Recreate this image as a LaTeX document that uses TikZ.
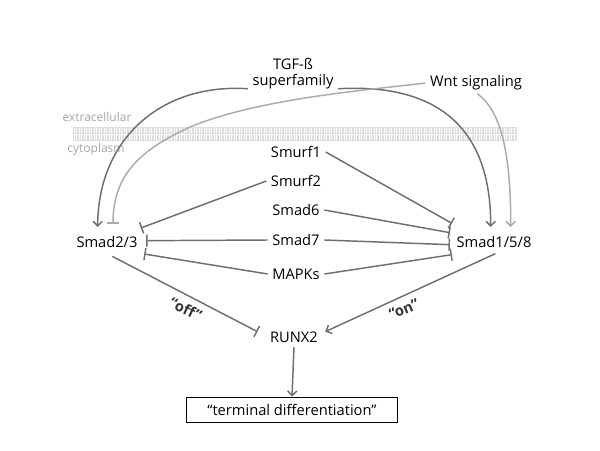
\documentclass[tikz,border=0pt]{standalone}
\usepackage{fontspec}
\setmainfont{Open Sans}
\usetikzlibrary{arrows.meta}
\definecolor{linedark}{HTML}{6E6E6E}
\definecolor{linelight}{HTML}{AAAAAA}
\begin{document}
\begin{tikzpicture}[x=0.75pt,y=-0.75pt,font=\fontsize{11}{13}\selectfont,
    act/.style={draw=linedark,line width=1.1pt,-{Straight Barb[length=3.5pt,width=7pt]}},
    inh/.style={draw=linedark,line width=1.1pt,-{Bar[width=9pt]}},
    wntact/.style={act,draw=linelight},
    wntinh/.style={inh,draw=linelight},
    label/.style={font=\fontsize{9}{11}\selectfont,text=black!35},
    switch/.style={font=\bfseries\fontsize{11}{13}\selectfont,text=black!80,inner sep=1pt}]
    \useasboundingbox (0,0) rectangle (600,450);
    % membrane
    \fill[black!13] (73,127) rectangle (517,141);
    \foreach \x in {74,76.5,...,516} {
        \draw[white,line width=0.5pt] (\x,128) -- (\x,133);
        \draw[white,line width=0.5pt] (\x,135) -- (\x,140);
    }
    \draw[white,line width=0.6pt] (73,134) -- (517,134);
    \node[label] (extra) at (97,117) {extracellular};
    \node[label] (cyto) at (96,149) {cytoplasm};
    \node[align=center] (tgf) at (293,74) {TGF-ß\\[-1pt]superfamily};
    \node (wnt) at (476,83) {Wnt signaling};
    \node (smurf1) at (296,152) {Smurf1};
    \node (smurf2) at (296,181) {Smurf2};
    \node (smad6) at (296,210) {Smad6};
    \node (smad7) at (296,240) {Smad7};
    \node (mapks) at (296,274) {MAPKs};
    \node (smadL) at (107,242) {Smad2/3};
    \node (smadR) at (494,242) {Smad1/5/8};
    \node (runx) at (294,337) {RUNX2};
    \node[draw,line width=1.1pt,minimum width=158pt,minimum height=19pt] (term) at (292,410) {“terminal differentiation”};
    \draw[act] ([yshift=4pt]tgf.south west) .. controls (160,83) and (98,140) .. ([xshift=-7pt,yshift=3.5pt]smadL.north);
    \draw[act] ([yshift=4pt]tgf.south east) .. controls (440,83) and (491,130) .. ([xshift=-2.5pt,yshift=3.5pt]smadR.north);
    \draw[wntinh] (wnt.west) .. controls (370,90) and (260,98) .. (190,127)
        .. controls (140,150) and (113,175) .. ([xshift=4.5pt,yshift=6pt]smadL.north);
    \draw[wntact] ([xshift=1pt,yshift=1pt]wnt.south) .. controls (500,110) and (511,150) .. ([xshift=12.5pt,yshift=3.5pt]smadR.north);
    \draw[inh] (smurf2.west) -- ([xshift=-1pt,yshift=10.5pt]smadL.east);
    \draw[inh] (smad7.west) -- ([xshift=3pt,yshift=1pt]smadL.east);
    \draw[inh] (mapks.west) -- ([xshift=1.5pt,yshift=-9pt]smadL.east);
    \draw[inh] (smurf1.east) -- ([yshift=14pt]smadR.west);
    \draw[inh] (smad6.east) -- ([xshift=-1.5pt,yshift=7pt]smadR.west);
    \draw[inh] (smad7.east) -- ([xshift=-1.5pt,yshift=-2pt]smadR.west);
    \draw[inh] (mapks.east) -- ([yshift=-9.5pt]smadR.west);
    \draw[inh] ([xshift=4pt,yshift=-3pt]smadL.south) -- ([xshift=-6pt,yshift=4pt]runx.west);
    \draw[act] ([xshift=1pt,yshift=-1pt]smadR.south) -- ([xshift=2pt,yshift=4pt]runx.east);
    \draw[act] (runx.south) -- (term.north);
    \node[switch,rotate=-25] (off) at (186,309) {“off”};
    \node[switch,rotate=22] (on) at (404,309) {“on”};
\end{tikzpicture}
\end{document}
